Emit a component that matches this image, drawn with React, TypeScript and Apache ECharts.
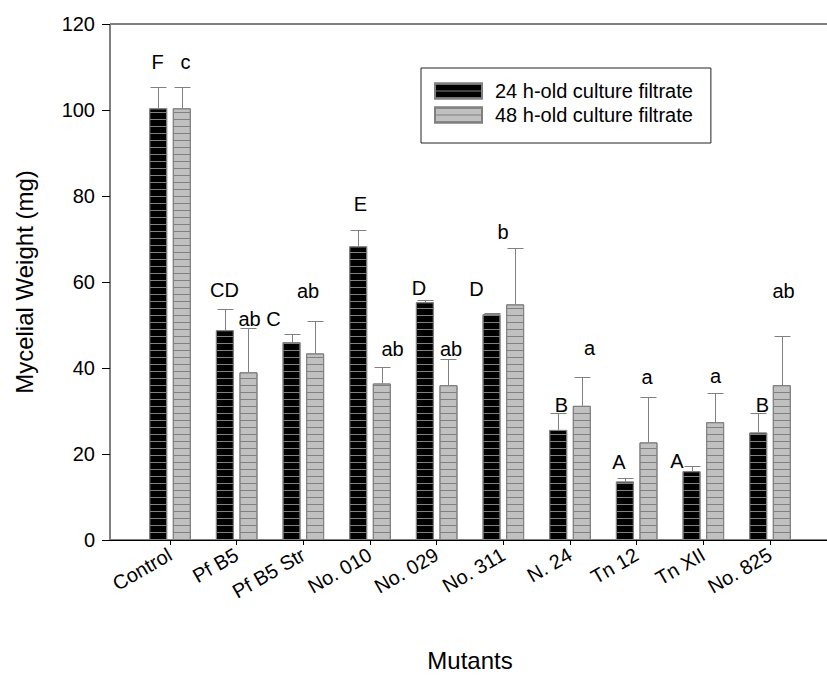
import React, { useEffect, useRef } from "react";
import * as echarts from "echarts";

// Mutant strains on the category axis
const categories = [
  "Control",
  "Pf B5",
  "Pf B5 Str",
  "No. 010",
  "No. 029",
  "No. 311",
  "N. 24",
  "Tn 12",
  "Tn XII",
  "No. 825",
];

const seriesNames = ["24 h-old culture filtrate", "48 h-old culture filtrate"];

// Mean mycelial weight (mg) and standard error for each filtrate age
const mean24 = [100.4, 48.8, 46.0, 68.3, 55.3, 52.5, 25.6, 13.6, 16.0, 25.0];
const err24 = [4.9, 4.9, 1.9, 3.8, 0.4, 0.4, 4.0, 0.9, 1.1, 4.5];
const mean48 = [100.4, 39.0, 43.4, 36.4, 36.0, 54.8, 31.2, 22.7, 27.4, 36.0];
const err48 = [4.9, 10.4, 7.6, 3.9, 6.1, 13.2, 6.8, 10.5, 6.7, 11.4];

// Significance letters
const letters24 = ["F", "CD", "C", "E", "D", "D", "B", "A", "A", "B"];
const letters48 = ["c", "ab", "ab", "ab", "ab", "b", "a", "a", "a", "ab"];

// Y axis ticks
const yMin = 0;
const yMax = 120;
const yStep = 20;

// Letter placement relative to the error-bar cap: [dx, rise] in px
const NUDGE_24: [number, number][] = [
  [-1, 26], [-1, 20], [-19, 16], [2, 27], [-6.5, 13],
  [-16, 25], [3, 9], [-6.5, 17], [-15.5, 6], [4, 9],
];
const NUDGE_48: [number, number][] = [
  [3, 26], [1, 10], [-7.5, 31], [10, 19], [2.5, 11],
  [-12.5, 17], [7, 30], [-1.5, 21], [0, 18], [1, 46],
];

const FONT = "'Liberation Sans', Arial, Helvetica, sans-serif";
const PLOT_TOP = 24;
const PLOT_BOTTOM = 140;
const AXIS_LEFT = 110;
const BAND_LEFT = 136.67;
const BAND_WIDTH = 666.67;
const BAR_W = 18;
const BAR_GAP_PX = 5.6;
const BAR_OFFSET = (BAR_W + BAR_GAP_PX) / 2;
const CAP_HALF = 8;
const LINE_GREY = "#808080";

const stripes = (color: string) => ({
  symbol: "rect",
  symbolSize: 1,
  dashArrayX: [1, 0],
  dashArrayY: [1, 6],
  rotation: 0,
  color,
});

function buildOption() {
  const errData: number[][] = [];
  [mean24, mean48].forEach((means, s) => {
    const errs = s === 0 ? err24 : err48;
    means.forEach((m, i) => errData.push([i, m, errs[i], s]));
  });

  return {
    animation: false,
    backgroundColor: "#fff",
    textStyle: { fontFamily: FONT },
    legend: {
      data: seriesNames,
      orient: "vertical",
      left: 421,
      top: 68,
      padding: [13, 18, 18, 13],
      itemGap: 4,
      itemWidth: 47,
      itemHeight: 15,
      icon: "rect",
      borderColor: "#222",
      borderWidth: 1,
      backgroundColor: "#fff",
      textStyle: { fontSize: 20, color: "#000", fontFamily: FONT, padding: [0, 0, 0, 8] },
    },
    grid: [
      {
        left: AXIS_LEFT,
        right: -3,
        top: PLOT_TOP,
        bottom: PLOT_BOTTOM,
        outerBoundsMode: "none",
        containLabel: false,
        show: true,
        borderColor: "#000",
        borderWidth: 1,
        backgroundColor: "transparent",
      },
      {
        left: BAND_LEFT,
        width: BAND_WIDTH,
        top: PLOT_TOP,
        bottom: PLOT_BOTTOM,
        outerBoundsMode: "none",
        containLabel: false,
      },
    ],
    xAxis: [
      {
        gridIndex: 0,
        type: "value",
        min: 0,
        max: 1,
        name: "Mutants",
        nameLocation: "middle",
        nameGap: 108,
        nameTextStyle: { fontSize: 24, color: "#000", fontFamily: FONT },
        axisLine: { show: true, lineStyle: { color: "#000", width: 1 } },
        axisTick: { show: false },
        axisLabel: { show: false },
        splitLine: { show: false },
      },
      {
        gridIndex: 1,
        type: "category",
        data: categories,
        boundaryGap: true,
        axisLine: { show: false },
        axisTick: {
          show: true,
          alignWithLabel: true,
          length: 5,
          lineStyle: { color: "#000", width: 1 },
        },
        axisLabel: {
          rotate: 30,
          margin: 13,
          fontSize: 20,
          color: "#000",
          fontFamily: FONT,
          interval: 0,
        },
      },
    ],
    yAxis: [
      {
        gridIndex: 0,
        type: "value",
        min: yMin,
        max: yMax,
        interval: yStep,
        name: "Mycelial Weight (mg)",
        nameLocation: "middle",
        nameGap: 74,
        nameTextStyle: { fontSize: 24, color: "#000", fontFamily: FONT },
        axisLine: { show: true, lineStyle: { color: LINE_GREY, width: 1 } },
        axisTick: { show: true, length: 8, lineStyle: { color: "#000", width: 1 } },
        axisLabel: { fontSize: 20, color: "#000", margin: 15, fontFamily: FONT },
        splitLine: { show: false },
      },
      {
        gridIndex: 1,
        type: "value",
        min: yMin,
        max: yMax,
        show: false,
        splitLine: { show: false },
      },
    ],
    series: [
      {
        name: seriesNames[0],
        type: "bar",
        xAxisIndex: 1,
        yAxisIndex: 1,
        data: mean24,
        barWidth: BAR_W,
        barGap: `${(BAR_GAP_PX / BAR_W) * 100}%`,
        itemStyle: {
          color: "#000",
          borderColor: LINE_GREY,
          borderWidth: 1,
          decal: stripes(LINE_GREY),
        },
      },
      {
        name: seriesNames[1],
        type: "bar",
        xAxisIndex: 1,
        yAxisIndex: 1,
        data: mean48,
        barWidth: BAR_W,
        itemStyle: {
          color: "#c0c0c0",
          borderColor: LINE_GREY,
          borderWidth: 1,
          decal: stripes(LINE_GREY),
        },
      },
      {
        name: "errors",
        type: "custom",
        xAxisIndex: 1,
        yAxisIndex: 1,
        data: errData,
        encode: { x: 0, y: 1 },
        clip: false,
        z: 3,
        renderItem: (_params: any, api: any) => {
          const i = api.value(0);
          const m = api.value(1);
          const e = api.value(2);
          const s = api.value(3);
          const base = api.coord([i, m]);
          const top = api.coord([i, m + e]);
          const x = Math.round(base[0] + (s === 0 ? -BAR_OFFSET : BAR_OFFSET)) + 0.5;
          const yTop = Math.round(top[1]) + 0.5;
          const letter = s === 0 ? letters24[i] : letters48[i];
          const nudge = s === 0 ? NUDGE_24[i] : NUDGE_48[i];
          return {
            type: "group",
            children: [
              {
                type: "line",
                shape: { x1: x, y1: base[1], x2: x, y2: yTop },
                style: { stroke: LINE_GREY, lineWidth: 1 },
              },
              {
                type: "line",
                shape: { x1: x - CAP_HALF, y1: yTop, x2: x + CAP_HALF, y2: yTop },
                style: { stroke: LINE_GREY, lineWidth: 1 },
              },
              {
                type: "text",
                x: x + nudge[0],
                y: yTop - nudge[1],
                style: {
                  text: letter,
                  fill: "#000",
                  font: `20px ${FONT}`,
                  align: "center",
                  verticalAlign: "middle",
                },
              },
            ],
          };
        },
      },
    ],
  };
}

export default function App() {
  const ref = useRef<HTMLDivElement>(null);

  useEffect(() => {
    if (!ref.current) return;
    const chart = echarts.init(ref.current, undefined, { renderer: "svg" });
    chart.setOption(buildOption() as any);
    return () => chart.dispose();
  }, []);

  return (
    <div
      ref={ref}
      style={{ position: "absolute", left: 0, top: 0, width: 827, height: 680, background: "#fff" }}
    />
  );
}
